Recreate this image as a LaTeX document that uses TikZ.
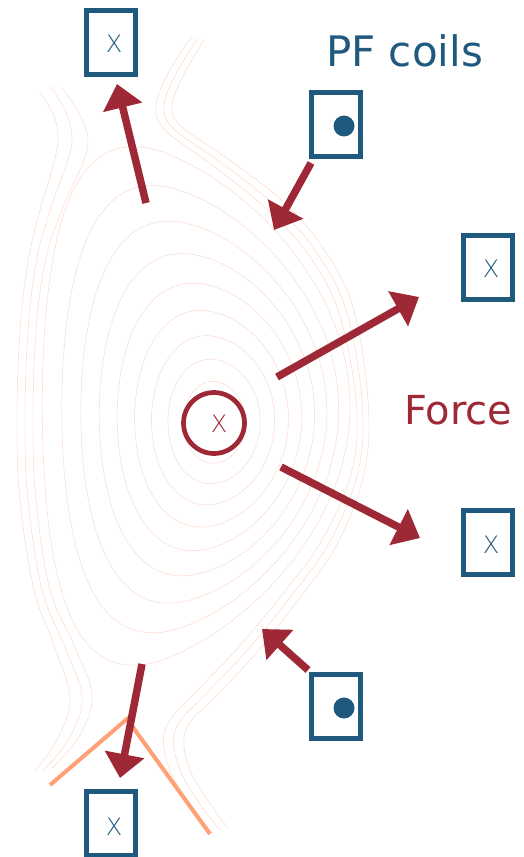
\documentclass[tikz,border=0pt]{standalone}
\usepackage{fontspec}
\setmainfont{DejaVu Sans}
\newfontfamily\xthin{DejaVu Sans ExtraLight}
\usetikzlibrary{arrows.meta}

\definecolor{coilblue}{RGB}{31,89,126}
\definecolor{forcered}{RGB}{158,40,54}
\definecolor{divertor}{RGB}{255,160,118}
\definecolor{flux}{RGB}{252,214,198}

\tikzset{
  coil/.style={draw=coilblue, line width=5pt, minimum width=49pt,
    minimum height=64pt, inner sep=0pt},
  coiltext/.style={text=coilblue, font=\xthin\fontsize{24}{28}\selectfont, inner sep=0pt},
  coildot/.style={circle, fill=coilblue, minimum size=21pt, inner sep=0pt},
  forcearrow/.style={draw=forcered, line width=7.5pt,
    -{Triangle[length=24pt,width=39pt]}},
  fluxline/.style={draw=flux, line width=0.45pt},
  plate/.style={draw=divertor, line width=4pt},
}

\begin{document}
\begin{tikzpicture}[x=1pt,y=-1pt]
\useasboundingbox (0,0) rectangle (524,857);

% nested closed flux surfaces (D-shaped, shifted outward towards the core)
\foreach \i in {2,...,10}{
  \pgfmathsetmacro\r{\i/10}
  \pgfmathsetmacro\Rz{214-26*\r*\r}
  \pgfmathsetmacro\am{162*\r}
  \pgfmathsetmacro\kap{1.25+0.35*\r*\r}
  \pgfmathsetmacro\dl{22*\r*\r}
  \pgfmathsetmacro\Zz{423-17*\r*\r}
  \draw[fluxline] plot[domain=0:360, samples=181, variable=\t]
    ({\Rz+\am*(0.95*cos(\t+\dl*sin(\t))+0.05*abs(cos(\t+\dl*sin(\t))))},
     {\Zz-\kap*\am*sin(\t)});
}

% open field lines, inboard side
\draw[fluxline] plot[smooth, tension=0.6] coordinates {(62,88) (80,115) (88,140) (82,165) (64,205) (46,258) (36,330) (33,420) (36,500) (50,590) (74,645) (92,695) (80,735) (52,768)};
\draw[fluxline] plot[smooth, tension=0.6] coordinates {(50,86) (66,112) (72,140) (66,165) (52,205) (37,258) (28,330) (25,420) (28,500) (42,590) (64,645) (82,697) (70,737) (44,770)};
\draw[fluxline] plot[smooth, tension=0.6] coordinates {(40,92) (54,116) (58,140) (52,170) (40,210) (28,262) (20,330) (17,420) (20,500) (34,590) (54,645) (70,698) (58,738) (34,772)};

% open field lines, outboard side
\draw[fluxline] plot[smooth, tension=0.6] coordinates {(192,36) (170,70) (156,105) (165,130) (212,165) (262,205) (305,250) (338,310) (356,400) (352,470) (322,540) (278,600) (236,650) (198,690) (166,727) (168,765) (190,805) (212,833)};
\draw[fluxline] plot[smooth, tension=0.6] coordinates {(198,38) (177,72) (164,105) (173,128) (220,162) (270,201) (312,246) (345,307) (362,400) (358,472) (329,543) (285,604) (243,655) (206,694) (176,728) (178,765) (199,803) (220,830)};
\draw[fluxline] plot[smooth, tension=0.6] coordinates {(204,40) (184,74) (172,105) (181,126) (228,159) (278,197) (319,242) (352,304) (368,400) (364,474) (336,546) (292,608) (250,660) (214,698) (186,729) (188,765) (208,801) (228,828)};

% divertor plates
\coordinate (plateL) at (50,785);
\coordinate (plateX) at (127,719);
\coordinate (plateR) at (210,834);
\draw[plate] (plateL) -- (plateX) -- (plateR);

% force arrows
\coordinate (f1s) at (146,203); \coordinate (f1e) at (117,84);
\coordinate (f2s) at (311,163); \coordinate (f2e) at (274,230);
\coordinate (f3s) at (277,377); \coordinate (f3e) at (419,297);
\coordinate (f4s) at (281,467); \coordinate (f4e) at (420,538);
\coordinate (f5s) at (308,670); \coordinate (f5e) at (262,629);
\coordinate (f6s) at (142,664); \coordinate (f6e) at (120,778);
\draw[forcearrow] (f1s) -- (f1e);
\draw[forcearrow] (f2s) -- (f2e);
\draw[forcearrow] (f3s) -- (f3e);
\draw[forcearrow] (f4s) -- (f4e);
\draw[forcearrow] (f5s) -- (f5e);
\draw[forcearrow] (f6s) -- (f6e);

% plasma current
\node[circle, draw=forcered, line width=4.7pt, minimum size=61pt, inner sep=0pt] (plasma) at (214,423) {};
\node[text=forcered, font=\xthin\fontsize{24}{28}\selectfont, inner sep=0pt] (plasmax) at (219,424) {X};

% PF coils
\node[coil] (coilTL) at (111,42.5) {};
\node[coiltext] (coilTLx) at (114,44) {X};
\node[coil] (coilTR) at (336,124.5) {};
\node[coildot] (coilTRd) at (344,126) {};
\node[coil] (coilR1) at (488,267.5) {};
\node[coiltext] (coilR1x) at (491,269) {X};
\node[coil] (coilR2) at (488,542.5) {};
\node[coiltext] (coilR2x) at (491,545) {X};
\node[coil] (coilBR) at (336,706.5) {};
\node[coildot] (coilBRd) at (344,708) {};
\node[coil] (coilBL) at (111,823.5) {};
\node[coiltext] (coilBLx) at (114,827) {X};

% labels
\node[text=coilblue, anchor=base west, inner sep=0pt, font=\fontsize{42}{50}\selectfont] (pflabel) at (326,66) {PF coils};
\node[text=forcered, anchor=base west, inner sep=0pt, font=\fontsize{40}{48}\selectfont] (forcelabel) at (404,424) {Force};
\end{tikzpicture}
\end{document}
